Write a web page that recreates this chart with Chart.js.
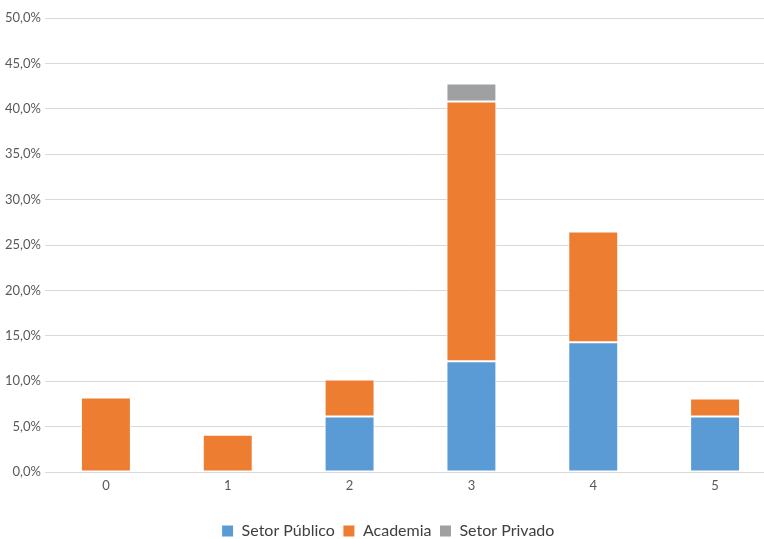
<!DOCTYPE html>
<html>
<head>
<meta charset="utf-8">
<script src="https://cdn.jsdelivr.net/npm/chart.js@4/dist/chart.umd.min.js"></script>
<style>
  html, body { margin: 0; padding: 0; background: #fff; overflow: hidden; }
  #wrap { width: 776px; height: 539px; position: relative; }
</style>
</head>
<body>
<div id="wrap"><canvas id="chart"></canvas></div>
<script>
const categories = ['0', '1', '2', '3', '4', '5'];
const setorPublico = [0, 0, 6.1, 12.2, 14.3, 6.1];
const academia = [8.2, 4.1, 4.1, 28.6, 12.2, 2.0];
const setorPrivado = [0, 0, 0, 2.0, 0, 0];
const yTicks = [0, 5, 10, 15, 20, 25, 30, 35, 40, 45, 50];

const fontFamily = "Lato, 'Open Sans', sans-serif";

let ctx = document.getElementById('chart');

const chart = new Chart(ctx, {
    type: 'bar',
    data: {
        labels: categories,
        datasets: [
            { label: 'Setor Público', data: setorPublico, backgroundColor: '#5B9BD5' },
            { label: 'Academia', data: academia, backgroundColor: '#ED7D31' },
            { label: 'Setor Privado', data: setorPrivado, backgroundColor: '#9FA0A1' }
        ].map(ds => ({
            ...ds,
            borderColor: '#ffffff',
            borderWidth: 1,
            borderSkipped: false,
            categoryPercentage: 0.41,
            barPercentage: 1
        }))
    },
    options: {
        responsive: true,
        maintainAspectRatio: false,
        animation: false,
        layout: { padding: { top: 18, right: 0, left: 0, bottom: -10 } },
        plugins: {
            legend: {
                position: 'bottom',
                labels: {
                    color: '#404040',
                    font: { family: fontFamily, size: 16 },
                    boxWidth: 12,
                    boxHeight: 12,
                    padding: 8,
                    useBorderRadius: false
                }
            },
            tooltip: { enabled: false }
        },
        scales: {
            x: {
                stacked: true,
                grid: { display: false, drawTicks: false },
                border: { display: false },
                ticks: { color: '#595959', font: { family: fontFamily, size: 13 }, padding: 6 },
                afterFit: (scale) => { scale.height = 43; }
            },
            y: {
                stacked: true,
                min: 0,
                max: 50,
                afterBuildTicks: (scale) => { scale.ticks = yTicks.map(v => ({ value: v })); },
                grid: { color: '#d9d9d9', lineWidth: 1, drawTicks: false },
                border: { display: false },
                ticks: {
                    color: '#595959',
                    font: { family: fontFamily, size: 13 },
                    padding: 4,
                    callback: (v) => v.toFixed(1).replace('.', ',') + '%'
                },
                afterFit: (scale) => { scale.width = 45; }
            }
        }
    }
});
</script>
</body>
</html>
